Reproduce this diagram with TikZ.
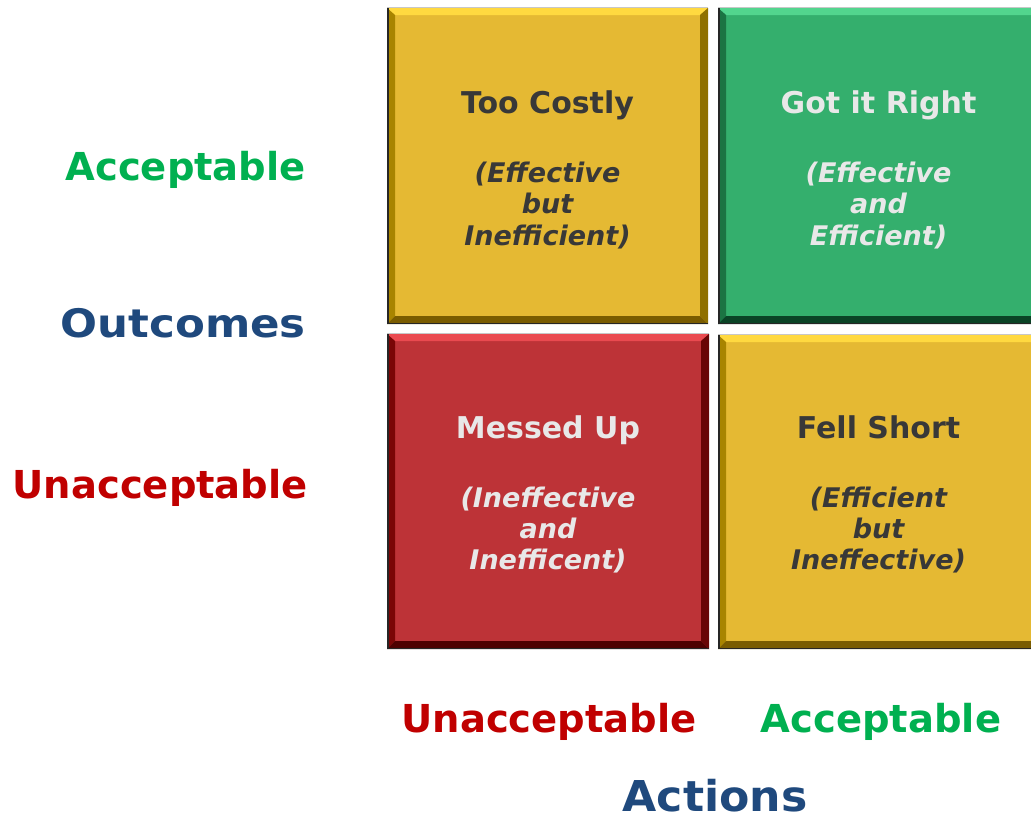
\documentclass[tikz,border=0pt]{standalone}
\usepackage{fontspec}
\usepackage{graphicx}
\setmainfont{DejaVu Sans}
\definecolor{yface}{HTML}{E5B933}
\definecolor{ytop}{HTML}{FFD940}
\definecolor{yside}{HTML}{A88400}
\definecolor{ybot}{HTML}{7A5C00}
\definecolor{gface}{HTML}{34AF6D}
\definecolor{gtop}{HTML}{52D58E}
\definecolor{gside}{HTML}{1B7443}
\definecolor{gbot}{HTML}{0A4326}
\definecolor{rface}{HTML}{BD3337}
\definecolor{rtop}{HTML}{EA4A50}
\definecolor{rside}{HTML}{7A0606}
\definecolor{rbot}{HTML}{4E0000}
\definecolor{darktxt}{HTML}{383838}
\definecolor{lighttxt}{HTML}{E8E8E8}
\definecolor{lblgreen}{HTML}{00B050}
\definecolor{lblred}{HTML}{C00000}
\definecolor{lblblue}{HTML}{1F497D}
\newcommand\bevelbox[8]{%
  \fill[#5] (#1,#2) rectangle (#3,#4);
  \fill[#6] (#1,#2) -- (#3,#2) -- (#3-8,#2+7) -- (#1+8,#2+7) -- cycle;
  \fill[#7] (#1,#2) -- (#1+8,#2+7) -- (#1+8,#4-8) -- (#1,#4) -- cycle;
  \fill[#7!85!black] (#3,#2) -- (#3-8,#2+7) -- (#3-8,#4-8) -- (#3,#4) -- cycle;
  \fill[#8] (#1,#4) -- (#1+8,#4-8) -- (#3-8,#4-8) -- (#3,#4) -- cycle;
  \draw[black!85,line width=1.5] (#1+0.75,#2) -- (#1+0.75,#4-0.75) -- (#3,#4-0.75);
  \draw[black!22,line width=1] (#1,#2-0.5) -- (#3,#2-0.5);
}
\tikzset{
  ttl/.style={anchor=base,font=\bfseries\fontsize{30}{34}\selectfont},
  sub/.style={anchor=base,font=\bfseries\itshape\fontsize{27}{32}\selectfont},
  lbl/.style={font=\bfseries\fontsize{38.5}{46}\selectfont},
}
\begin{document}
\begin{tikzpicture}[x=1pt,y=-1pt]
\useasboundingbox (0,0) rectangle (1031,815);
\clip (0,0) rectangle (1031,815);
% boxes
\bevelbox{387}{8}{708}{324}{yface}{ytop}{yside}{ybot}
\bevelbox{718}{8}{1039}{324}{gface}{gtop}{gside}{gbot}
\bevelbox{387}{334}{709}{649}{rface}{rtop}{rside}{rbot}
\bevelbox{718}{335}{1039}{649}{yface}{ytop}{yside}{ybot}
% box texts
\node[ttl,text=darktxt] (tc) at (547.5,113) {Too Costly};
\node[sub,text=darktxt] (tc1) at (547.5,182) {(Effective};
\node[sub,text=darktxt] (tc2) at (547.5,213) {but};
\node[sub,text=darktxt] (tc3) at (547.5,245) {Inefficient)};
\node[ttl,text=lighttxt] (gr) at (878.5,113) {Got it Right};
\node[sub,text=lighttxt] (gr1) at (878.5,182) {(Effective};
\node[sub,text=lighttxt] (gr2) at (878.5,213) {and};
\node[sub,text=lighttxt] (gr3) at (878.5,245) {Efficient)};
\node[ttl,text=lighttxt] (mu) at (548,438) {Messed Up};
\node[sub,text=lighttxt] (mu1) at (548,507) {(Ineffective};
\node[sub,text=lighttxt] (mu2) at (548,538) {and};
\node[sub,text=lighttxt] (mu3) at (548,569) {Inefficent)};
\node[ttl,text=darktxt] (fs) at (878.5,438) {Fell Short};
\node[sub,text=darktxt] (fs1) at (878.5,507) {(Efficient};
\node[sub,text=darktxt] (fs2) at (878.5,538) {but};
\node[sub,text=darktxt] (fs3) at (878.5,569) {Ineffective)};
% axis labels
\node[lbl,text=lblgreen,anchor=base east,inner sep=0] (oacc) at (306,180) {Acceptable};
\node[lbl,text=lblblue,anchor=base east,inner sep=0] (outc) at (306,337) {\scalebox{1.13}[1.02]{Outcomes}};
\node[lbl,text=lblred,anchor=base east,inner sep=0] (ouna) at (308,498) {Unacceptable};
\node[lbl,text=lblred,anchor=base,inner sep=0] (auna) at (549,732) {Unacceptable};
\node[lbl,text=lblgreen,anchor=base,inner sep=0] (aacc) at (881,732) {Acceptable};
\node[lbl,text=lblblue,anchor=base,inner sep=0,font=\bfseries\fontsize{42.5}{50}\selectfont] (act) at (715,811) {\scalebox{1.04}[1]{Actions}};
\end{tikzpicture}
\end{document}
